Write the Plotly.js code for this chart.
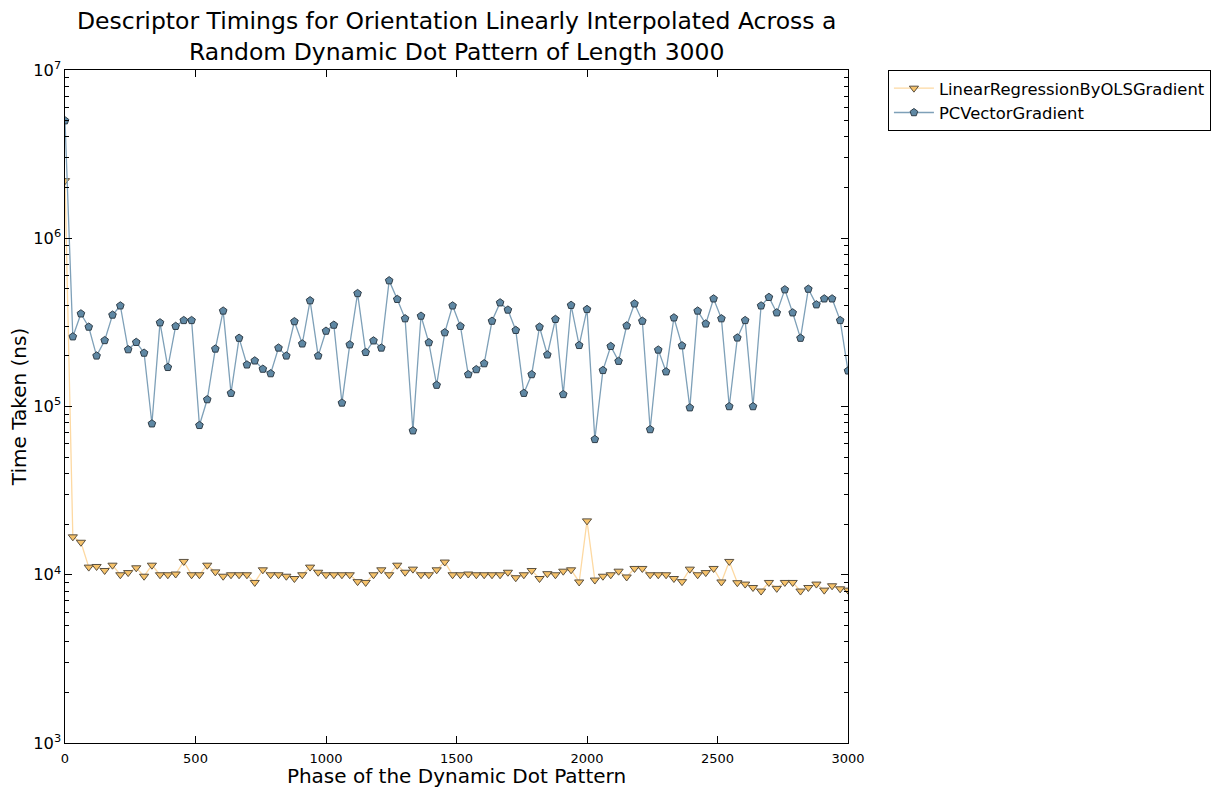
<!DOCTYPE html>
<html>
<head>
<meta charset="utf-8">
<script src="https://cdn.plot.ly/plotly-3.0.1.min.js"></script>
<style>html,body{margin:0;padding:0;background:#fff;}#chart{width:1227px;height:788px;}</style>
</head>
<body>
<div id="chart"></div>
<script>
// Phase positions (100 samples across 0..3000)
const phase = [0,30,61,91,121,152,182,212,242,273,303,333,364,394,424,455,485,515,545,576,
  606,636,667,697,727,758,788,818,848,879,909,939,970,1000,1030,1061,1091,1121,1152,1182,
  1212,1242,1273,1303,1333,1364,1394,1424,1455,1485,1515,1545,1576,1606,1636,1667,1697,1727,1758,1788,
  1818,1848,1879,1909,1939,1970,2000,2030,2061,2091,2121,2152,2182,2212,2242,2273,2303,2333,2364,2394,
  2424,2455,2485,2515,2545,2576,2606,2636,2667,2697,2727,2758,2788,2818,2848,2879,2909,2939,2970,3000];

// Time taken (ns)
const olsGradient = [2.2e6,1.68e4,1.56e4,1.11e4,1.12e4,1.06e4,1.14e4,1.0e4,1.03e4,1.1e4,
  9.8e3,1.14e4,1.0e4,1.0e4,1.01e4,1.2e4,1.0e4,1.0e4,1.14e4,1.04e4,
  9.8e3,1.0e4,1.0e4,1.0e4,9.0e3,1.07e4,1.0e4,1.0e4,9.8e3,9.5e3,
  1.0e4,1.11e4,1.035e4,1.0e4,1.0e4,1.0e4,1.0e4,9.1e3,9.0e3,1.0e4,
  1.07e4,1.0e4,1.14e4,1.035e4,1.08e4,1.0e4,1.0e4,1.07e4,1.19e4,1.0e4,
  1.0e4,1.01e4,1.0e4,1.0e4,1.0e4,1.0e4,1.035e4,9.6e3,1.0e4,1.06e4,
  9.5e3,1.015e4,1.0e4,1.05e4,1.07e4,9.06e3,2.09e4,9.3e3,9.8e3,1.0e4,
  1.05e4,9.7e3,1.09e4,1.09e4,1.0e4,1.0e4,1.0e4,9.5e3,9.1e3,1.08e4,
  1.0e4,1.03e4,1.09e4,9.06e3,1.2e4,8.97e3,8.8e3,8.4e3,8.0e3,9.0e3,
  8.3e3,9.0e3,9.0e3,8.0e3,8.4e3,8.8e3,8.1e3,8.6e3,8.25e3,8.1e3];

const pcVectorGradient = [5.0e6,2.6e5,3.56e5,2.97e5,2.0e5,2.47e5,3.5e5,3.97e5,2.18e5,2.41e5,
  2.08e5,7.9e4,3.15e5,1.71e5,3.0e5,3.25e5,3.25e5,7.73e4,1.1e5,2.2e5,
  3.7e5,1.2e5,2.55e5,1.77e5,1.87e5,1.67e5,1.57e5,2.23e5,2.0e5,3.2e5,
  2.36e5,4.26e5,2.0e5,2.81e5,3.05e5,1.05e5,2.33e5,4.7e5,2.1e5,2.46e5,
  2.23e5,5.6e5,4.34e5,3.33e5,7.18e4,3.45e5,2.4e5,1.34e5,2.75e5,3.97e5,
  3.0e5,1.55e5,1.66e5,1.8e5,3.22e5,4.14e5,3.75e5,2.84e5,1.2e5,1.55e5,
  2.97e5,2.03e5,3.3e5,1.18e5,4.0e5,2.31e5,3.78e5,6.38e4,1.64e5,2.28e5,
  1.86e5,3.02e5,4.08e5,3.22e5,7.3e4,2.17e5,1.61e5,3.37e5,2.3e5,9.84e4,
  3.7e5,3.1e5,4.37e5,3.33e5,1.0e5,2.56e5,3.25e5,1.0e5,3.97e5,4.46e5,
  3.61e5,4.95e5,3.61e5,2.55e5,4.99e5,4.03e5,4.37e5,4.37e5,3.25e5,1.63e5];

const seriesNames = ['LinearRegressionByOLSGradient', 'PCVectorGradient'];
const xTicks = [0,500,1000,1500,2000,2500,3000];

const font = 'DejaVu Sans, sans-serif';

const traces = [
  {
    x: phase, y: olsGradient, name: seriesNames[0], type: 'scatter', mode: 'lines+markers',
    line: {color: '#fdd9a2', width: 1.3},
    marker: {symbol: 'triangle-down', size: 8, color: '#f6c26a', line: {color: '#5a5040', width: 1}},
    cliponaxis: true
  },
  {
    x: phase, y: pcVectorGradient, name: seriesNames[1], type: 'scatter', mode: 'lines+markers',
    line: {color: '#7ea0b8', width: 1.3},
    marker: {symbol: 'pentagon', size: 8, color: '#5f88a4', line: {color: '#2f3d48', width: 1}},
    cliponaxis: true
  }
];

const layout = {
  width: 1227, height: 788,
  paper_bgcolor: '#ffffff', plot_bgcolor: '#ffffff',
  margin: {l: 65, r: 379, t: 70, b: 45, pad: 0},
  font: {family: font, color: '#000', size: 13},
  title: {
    text: 'Descriptor Timings for Orientation Linearly Interpolated Across a<br>Random Dynamic Dot Pattern of Length 3000',
    font: {family: font, size: 23.5, color: '#000'},
    x: 0.3722, xanchor: 'center', y: 0.963, yanchor: 'middle'
  },
  xaxis: {
    title: {text: 'Phase of the Dynamic Dot Pattern', font: {family: font, size: 20}, standoff: 0},
    range: [0, 3000], tickvals: xTicks, ticktext: xTicks.map(String),
    ticks: 'inside', ticklen: 7, tickwidth: 1, tickcolor: '#000',
    showline: true, linecolor: '#000', linewidth: 1.2, mirror: 'ticks',
    showgrid: false, zeroline: false,
    tickfont: {family: font, size: 13}, ticklabelstandoff: 3
  },
  yaxis: {
    title: {text: 'Time Taken (ns)', font: {family: font, size: 20}, standoff: 1},
    type: 'log', range: [3, 7], dtick: 1, tick0: 0, exponentformat: 'power',
    ticks: 'inside', ticklen: 7, tickwidth: 1, tickcolor: '#000',
    minor: {ticks: 'inside', ticklen: 4, tickcolor: '#000', dtick: 'D1', showgrid: false},
    showline: true, linecolor: '#000', linewidth: 1.2, mirror: 'ticks',
    showgrid: false, zeroline: false,
    tickfont: {family: font, size: 13}
  },
  showlegend: true,
  legend: {
    x: 1.051, xanchor: 'left', y: 1.0, yanchor: 'top',
    bgcolor: '#ffffff', bordercolor: '#000', borderwidth: 1,
    font: {family: font, size: 16.4, color: '#000'},
    tracegroupgap: 0, itemwidth: 40
  }
};

Plotly.newPlot('chart', traces, layout, {displayModeBar: false, staticPlot: true});
</script>
</body>
</html>
